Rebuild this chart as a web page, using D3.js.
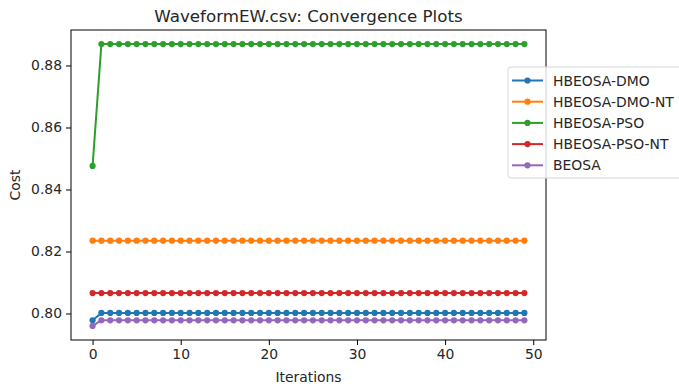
<!DOCTYPE html>
<html>
<head>
<meta charset="utf-8">
<script src="https://cdn.jsdelivr.net/npm/d3@7"></script>
<style>
  html, body { margin: 0; padding: 0; background: #fff; overflow: hidden; }
  text { font-family: "DejaVu Sans", sans-serif; fill: #262626; }
</style>
</head>
<body>
<svg id="chart" width="679" height="389"></svg>
<script>
// Convergence curves: cost per iteration for each optimiser
const iterations = d3.range(0, 50);
const seriesNames = ["HBEOSA-DMO", "HBEOSA-DMO-NT", "HBEOSA-PSO", "HBEOSA-PSO-NT", "BEOSA"];
const seriesColors = ["#1f77b4", "#ff7f0e", "#2ca02c", "#d62728", "#9467bd"];
const firstCost = [0.7978, 0.8235, 0.8476, 0.8066, 0.7960];
const settledCost = [0.8002, 0.8235, 0.8869, 0.8066, 0.7978];
const xTicks = [0, 10, 20, 30, 40, 50];
const yTicks = [0.80, 0.82, 0.84, 0.86, 0.88];

// Each run holds its first-iteration cost, then the settled cost
const seriesValues = seriesNames.map((name, i) =>
  iterations.map(it => (it === 0 ? firstCost[i] : settledCost[i]))
);

const svg = d3.select("#chart");
const margin = { left: 71, right: 133, top: 30, bottom: 49 };
const W = 679, H = 389;
const plotW = W - margin.left - margin.right;
const plotH = H - margin.top - margin.bottom;

// matplotlib-style 5% padding around the data range
const xMin = 0, xMax = 49;
const xPad = (xMax - xMin) * 0.05;
const allVals = seriesValues.flat();
const yMin = d3.min(allVals), yMax = d3.max(allVals);
const yPad = (yMax - yMin) * 0.05;

const x = d3.scaleLinear().domain([xMin - xPad, xMax + xPad]).range([margin.left, margin.left + plotW]);
const y = d3.scaleLinear().domain([yMin - yPad, yMax + yPad]).range([margin.top + plotH, margin.top]);

const g = svg.append("g");

// Lines and markers
const line = d3.line().x((d, i) => x(iterations[i])).y(d => y(d));
seriesValues.forEach((vals, si) => {
  const sg = g.append("g");
  sg.append("path")
    .attr("d", line(vals))
    .attr("fill", "none")
    .attr("stroke", seriesColors[si])
    .attr("stroke-width", 2);
  sg.selectAll("circle").data(vals).join("circle")
    .attr("cx", (d, i) => x(iterations[i]))
    .attr("cy", d => y(d))
    .attr("r", 3.1)
    .attr("fill", seriesColors[si]);
});

// Axes
const xAxis = d3.axisBottom(x).tickValues(xTicks).tickFormat(d3.format("d")).tickSizeOuter(0).tickSize(5).tickPadding(4);
const yAxis = d3.axisLeft(y).tickValues(yTicks).tickFormat(d3.format(".2f")).tickSizeOuter(0).tickSize(5).tickPadding(4);

const gx = svg.append("g").attr("transform", `translate(0,${margin.top + plotH})`).call(xAxis);
const gy = svg.append("g").attr("transform", `translate(${margin.left},0)`).call(yAxis);
[gx, gy].forEach(a => {
  a.select(".domain").remove();
  a.selectAll(".tick line").attr("stroke", "#000").attr("stroke-width", 1);
  a.selectAll(".tick text").attr("font-size", "13.9px").attr("fill", "#262626")
    .attr("font-family", "DejaVu Sans, sans-serif");
});

// Frame
svg.append("rect")
  .attr("x", margin.left).attr("y", margin.top)
  .attr("width", plotW).attr("height", plotH)
  .attr("fill", "none").attr("stroke", "#000").attr("stroke-width", 1);

// Titles
svg.append("text")
  .attr("x", margin.left + plotW / 2).attr("y", 22)
  .attr("text-anchor", "middle").attr("font-size", "16.7px")
  .text("WaveformEW.csv: Convergence Plots");
svg.append("text")
  .attr("x", margin.left + plotW / 2).attr("y", 382)
  .attr("text-anchor", "middle").attr("font-size", "13.9px")
  .text("Iterations");
svg.append("text")
  .attr("transform", `translate(20,${margin.top + plotH / 2}) rotate(-90)`)
  .attr("text-anchor", "middle").attr("font-size", "13.9px")
  .text("Cost");

// Legend
const lg = svg.append("g").attr("transform", "translate(508,67)");
lg.append("rect")
  .attr("x", 0).attr("y", 0).attr("width", 190).attr("height", 111)
  .attr("rx", 3).attr("fill", "#fff").attr("fill-opacity", 0.8)
  .attr("stroke", "#d6d6d6").attr("stroke-width", 1);
seriesNames.forEach((name, i) => {
  const ry = 13.5 + i * 21.2;
  lg.append("line")
    .attr("x1", 4).attr("x2", 35).attr("y1", ry).attr("y2", ry)
    .attr("stroke", seriesColors[i]).attr("stroke-width", 2);
  lg.append("circle").attr("cx", 19.5).attr("cy", ry).attr("r", 3.1).attr("fill", seriesColors[i]);
  lg.append("text")
    .attr("x", 45).attr("y", ry + 5)
    .attr("font-size", "13.9px")
    .text(name);
});
</script>
</body>
</html>
